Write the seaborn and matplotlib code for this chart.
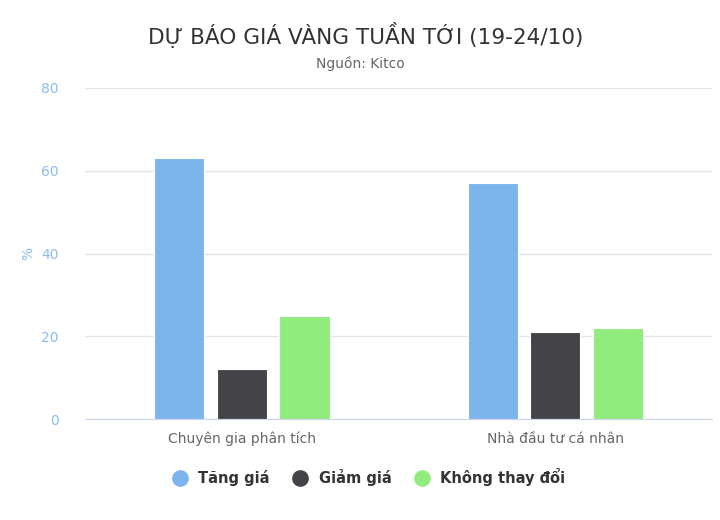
import pandas as pd
import matplotlib.pyplot as plt
import seaborn as sns
from matplotlib.lines import Line2D

# du lieu doc tu hinh
nhom = ["Chuyên gia phân tích", "Nhà đầu tư cá nhân"]
loai = ["Tăng giá", "Giảm giá", "Không thay đổi"]
tang_gia = [63, 57]
giam_gia = [12, 21]
khong_doi = [25, 22]
mau = ["#7cb5ec", "#434348", "#90ed7d"]

df = pd.DataFrame({
    "nhom": nhom * 3,
    "loai": [loai[0]] * 2 + [loai[1]] * 2 + [loai[2]] * 2,
    "gia_tri": tang_gia + giam_gia + khong_doi,
})

sns.set_style("white")
plt.rcParams["font.family"] = ["DejaVu Sans"]

fig = plt.figure(figsize=(7.2, 5.2), dpi=100)
ax = fig.add_axes([0.118, 0.194, 0.871, 0.637])

sns.barplot(data=df, x="nhom", y="gia_tri", hue="loai", hue_order=loai,
            palette=mau, saturation=1, width=0.6, gap=0.2, edgecolor="white",
            linewidth=0.8, ax=ax, legend=False, errorbar=None)

ax.set_ylim(0, 80)
ax.set_xlim(-0.5, 1.5)
ax.set_yticks([0, 20, 40, 60, 80])
ax.yaxis.grid(True, color="#e6e6e6", linewidth=1)
ax.set_axisbelow(True)
for s in ["top", "right", "left"]:
    ax.spines[s].set_visible(False)
ax.spines["bottom"].set_color("#ccd6eb")
ax.tick_params(axis="y", length=0, labelcolor="#8cbcee", labelsize=10, pad=19)
ax.tick_params(axis="x", length=0, labelcolor="#666666", labelsize=10, pad=9)
ax.set_xlabel("")
ax.set_ylabel("%", color="#8cbcee", fontsize=10, labelpad=4)

fig.text(0.508, 0.933, "DỰ BÁO GIÁ VÀNG TUẦN TỚI (19-24/10)", ha="center", va="center",
         fontsize=15.6, color="#333333")
fig.text(0.5, 0.877, "Nguồn: Kitco", ha="center", va="center", fontsize=10, color="#666666")

handles = [Line2D([0], [0], marker="o", color="none", markerfacecolor=c, markeredgecolor=c,
                  markersize=11) for c in mau]
leg = fig.legend(handles, loai, loc="center", bbox_to_anchor=(0.508, 0.083), ncol=3,
                 frameon=False, handletextpad=0.3, columnspacing=1.2)
for t in leg.get_texts():
    t.set_fontweight("bold")
    t.set_color("#333333")
    t.set_fontsize(10.5)

plt.savefig("out.png", dpi=100)
